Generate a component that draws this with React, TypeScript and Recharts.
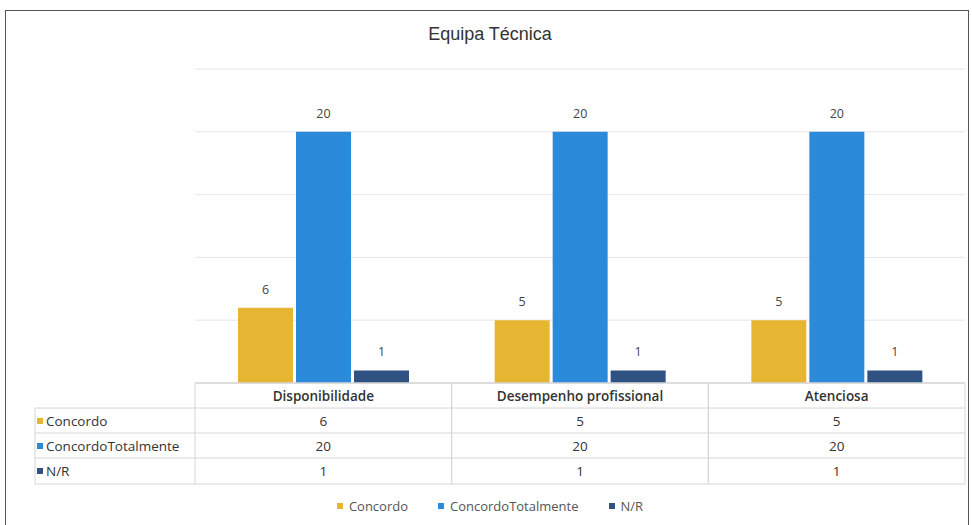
import { BarChart, Bar, XAxis, YAxis, CartesianGrid, LabelList } from "recharts";

const categories = ["Disponibilidade", "Desempenho profissional", "Atenciosa"];
const seriesNames = ["Concordo", "ConcordoTotalmente", "N/R"];
const concordo = [6, 5, 5];
const concordoTotalmente = [20, 20, 20];
const naoResponde = [1, 1, 1];
const yTicks = [0, 5, 10, 15, 20, 25];

const colors = ["#E6B632", "#2C8ADA", "#2F5283"];
const seriesValues = [concordo, concordoTotalmente, naoResponde];

const data = categories.map((c, i) => ({
  name: c,
  s0: concordo[i],
  s1: concordoTotalmente[i],
  s2: naoResponde[i],
}));

const W = 972;
const H = 525;
const LEFT = 195;
const RIGHT = 7;
const BAND = (W - LEFT - RIGHT) / categories.length;
const TABLE_TOP = 383;
const ROW = [383, 408, 433, 458, 484];
const LABEL_LEFT = 35;
const lineColor = "#d6d6d6";
const font = "'Open Sans', sans-serif";
const tableSize = 13.5;

function TableTick(props: any) {
  const { x, payload } = props;
  const i = payload.index;
  const l = x - BAND / 2;
  const r = x + BAND / 2;
  return (
    <g>
      {ROW.map((y, k) => (
        <line key={k} x1={l} x2={r} y1={y} y2={y} stroke={lineColor} />
      ))}
      <line x1={l} x2={l} y1={TABLE_TOP} y2={ROW[4]} stroke={lineColor} />
      <line x1={r} x2={r} y1={TABLE_TOP} y2={ROW[4]} stroke={lineColor} />
      <text x={x} y={ROW[0] + 18} textAnchor="middle" fontSize={tableSize} fontWeight={600} fill="#333" fontFamily={font}>
        {payload.value}
      </text>
      {seriesValues.map((vals, k) => (
        <text key={k} x={x} y={ROW[k + 1] + 18} textAnchor="middle" fontSize={tableSize} fill="#333" fontFamily={font}>
          {vals[i]}
        </text>
      ))}
      {i === 0 && (
        <g>
          {ROW.slice(1).map((y, k) => (
            <line key={k} x1={LABEL_LEFT} x2={l} y1={y} y2={y} stroke={lineColor} />
          ))}
          <line x1={LABEL_LEFT} x2={LABEL_LEFT} y1={ROW[1]} y2={ROW[4]} stroke={lineColor} />
          {seriesNames.map((n, k) => (
            <g key={k}>
              <rect x={LABEL_LEFT + 2} y={ROW[k + 1] + 10} width={6} height={6} fill={colors[k]} />
              <text x={LABEL_LEFT + 11} y={ROW[k + 1] + 18} fontSize={tableSize} fill="#333" fontFamily={font}>
                {n}
              </text>
            </g>
          ))}
        </g>
      )}
    </g>
  );
}

export default function App() {
  return (
    <div style={{ position: "absolute", left: 0, top: 0, width: W, height: H, background: "#fff", overflow: "hidden" }}>
      <div
        style={{
          position: "absolute",
          left: 5,
          top: 10,
          width: 964,
          height: 530,
          border: "1.5px solid #555",
          boxSizing: "border-box",
        }}
      />
      <div
        style={{
          position: "absolute",
          top: 24,
          left: 0,
          width: 980,
          textAlign: "center",
          fontFamily: "'Liberation Sans', Arial, sans-serif",
          fontSize: 18,
          color: "#333",
        }}
      >
        Equipa Técnica
      </div>
      <div style={{ position: "absolute", left: 0, top: 0 }}>
        <BarChart
          width={W}
          height={H}
          data={data}
          margin={{ top: 69, right: RIGHT, left: LEFT, bottom: 40 }}
          barCategoryGap={43}
          barGap={3}
        >
          <CartesianGrid vertical={false} stroke="#e6e6e6" />
          <YAxis hide domain={[0, 25]} ticks={yTicks} />
          <XAxis
            dataKey="name"
            height={102}
            interval={0}
            tickLine={false}
            axisLine={{ stroke: lineColor }}
            tick={(p: any) => <TableTick {...p} />}
          />
          {seriesNames.map((n, k) => (
            <Bar key={n} dataKey={"s" + k} name={n} fill={colors[k]} isAnimationActive={false}>
              <LabelList dataKey={"s" + k} position="top" offset={14} fontSize={12.5} fill="#444" fontFamily={font} />
            </Bar>
          ))}
        </BarChart>
      </div>
      <div
        style={{
          position: "absolute",
          top: 497,
          left: 0,
          width: 980,
          display: "flex",
          justifyContent: "center",
          gap: 30,
          fontFamily: font,
          fontSize: 13,
          color: "#555",
        }}
      >
        {seriesNames.map((n, k) => (
          <span key={n} style={{ display: "flex", alignItems: "center" }}>
            <span style={{ display: "inline-block", width: 6, height: 6, background: colors[k], marginRight: 6 }} />
            {n}
          </span>
        ))}
      </div>
    </div>
  );
}
